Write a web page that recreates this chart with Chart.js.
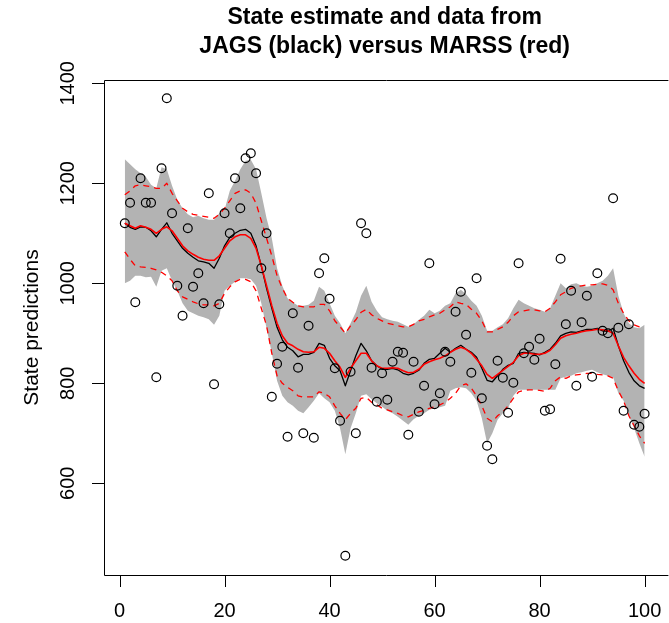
<!DOCTYPE html>
<html>
<head>
<meta charset="utf-8">
<script src="https://cdn.jsdelivr.net/npm/chart.js@4/dist/chart.umd.min.js"></script>
<style>
html,body{margin:0;padding:0;background:#fff;overflow:hidden;}
canvas{display:block;}
</style>
</head>
<body>
<canvas id="c" width="669" height="623"></canvas>
<script>
// ---- data ----
const titleLines = ["State estimate and data from", "JAGS (black) versus MARSS (red)"];
const yAxisTitle = "State predictions";
const xTicks = [0, 20, 40, 60, 80, 100];
const yTicks = [600, 800, 1000, 1200, 1400];

// observations (open circles), t = 1..100
const obs = [1120,1161,962,1210,1161,1161,812,1230,1370,1140,
             995,935,1110,993,1020,960,1180,798,958,1140,
             1100,1210,1150,1250,1260,1220,1030,1100,773,839,
             873,693,940,831,700,915,691,1020,1050,969,
             830,725,455,823,700,1120,1100,831,763,820,
             767,843,863,861,697,843,743,795,1040,758,
             780,863,843,943,983,897,821,1010,770,675,
             648,845,811,741,801,1040,860,873,847,889,
             745,748,838,1049,918,985,795,922,975,813,
             1020,905,900,1170,911,745,918,717,713,739];

// JAGS median (black line)
const jagsMed = [1120,1112,1108,1113,1112,1105,1093,1108,1121,1100,
                 1085,1070,1060,1052,1045,1043,1040,1030,1050,1075,
                 1092,1100,1106,1108,1100,1075,1035,990,950,912,
                 887,872,865,853,858,858,862,880,876,850,
                 835,825,795,825,855,880,865,845,835,828,
                 828,830,827,820,817,820,826,840,848,850,
                 860,870,862,870,876,868,862,852,830,806,
                 803,815,828,836,840,860,862,861,860,857,
                 862,868,880,895,900,903,902,905,908,908,
                 910,905,904,910,875,845,822,805,795,790];

// JAGS credible band (grey polygon)
const jagsUpper = [1248,1238,1228,1220,1213,1197,1190,1232,1228,1195,
                   1167,1150,1138,1132,1135,1130,1127,1127,1140,1147,
                   1185,1205,1228,1245,1247,1228,1180,1130,1090,1030,
                   995,970,962,955,955,957,965,993,985,960,
                   935,920,900,920,942,975,995,963,945,932,
                   928,925,923,918,913,918,927,935,947,940,
                   945,955,960,980,987,978,965,955,935,905,
                   905,912,918,930,950,967,960,955,950,947,
                   943,950,975,1000,990,998,1000,995,993,995,
                   1000,1005,1015,1030,975,940,920,912,910,917];
const jagsLower = [1000,1005,1015,1015,1012,1013,993,1025,1030,1005,
                   985,960,945,940,935,932,928,917,935,985,
                   995,1003,1010,1010,1008,995,960,910,860,805,
                   775,762,755,745,740,752,765,780,770,762,
                   745,710,658,710,740,775,778,768,760,753,
                   745,740,733,725,717,728,735,740,747,750,
                   752,755,785,790,792,790,780,765,730,680,
                   700,727,740,750,775,787,787,787,787,787,
                   787,787,787,810,813,815,820,822,825,827,
                   822,818,815,812,780,765,735,710,680,653];

// MARSS estimate (red line) and its CI (red dashed)
const marssMean = [1120,1115,1110,1115,1112,1108,1100,1108,1113,1105,
                   1090,1075,1065,1058,1052,1048,1046,1046,1055,1070,
                   1085,1093,1097,1097,1090,1070,1035,995,955,920,
                   895,880,875,868,863,862,863,872,870,860,
                   845,832,812,830,845,860,860,845,835,830,
                   830,831,830,825,821,822,828,838,843,847,
                   850,855,862,868,872,868,860,848,835,818,
                   810,818,826,834,842,855,860,860,858,858,
                   860,866,877,890,895,898,900,903,905,906,
                   908,907,905,900,875,852,835,820,808,800];
const marssUpper = [1177,1185,1195,1197,1195,1193,1190,1190,1200,1180,
                    1165,1150,1143,1138,1136,1134,1132,1130,1138,1150,
                    1165,1180,1185,1187,1180,1160,1125,1090,1055,1015,
                    990,970,962,955,953,953,953,958,958,945,
                    925,913,900,915,927,942,948,937,930,925,
                    920,918,915,913,913,918,925,928,933,937,
                    940,947,953,963,960,958,948,940,925,903,
                    903,908,913,922,935,943,945,947,947,945,
                    943,950,963,977,983,990,993,995,997,997,
                    998,999,996,987,960,940,925,917,913,913];
const marssLower = [1063,1048,1035,1033,1032,1030,1027,1022,1015,1005,
                    985,973,968,963,959,957,957,955,960,980,
                    993,1003,1008,1008,1003,985,950,915,860,815,
                    800,792,785,775,772,773,773,783,780,773,
                    755,740,727,740,750,770,772,762,757,750,
                    747,743,740,735,733,738,743,746,750,753,
                    757,762,770,780,795,799,790,775,755,730,
                    723,735,743,755,770,783,786,787,787,786,
                    784,790,805,813,810,815,817,818,820,820,
                    818,817,815,810,785,765,735,715,695,680];

function xy(arr){ return arr.map((v,i)=>({x:i+1, y:v})); }

const FONT = '"Liberation Sans", Arial, Helvetica, sans-serif';

const rAxes = {
  id: 'rAxes',
  afterDraw(chart){
    const ctx = chart.ctx, a = chart.chartArea;
    const xs = chart.scales.x, ys = chart.scales.y;
    ctx.save();
    ctx.strokeStyle = '#000'; ctx.lineWidth = 1;
    // box (right side lies beyond the window edge)
    ctx.beginPath();
    ctx.moveTo(a.right + 5, a.top + 0.5);
    ctx.lineTo(a.left + 0.5, a.top + 0.5);
    ctx.lineTo(a.left + 0.5, a.bottom + 0.5);
    ctx.lineTo(a.right + 5, a.bottom + 0.5);
    ctx.stroke();
    // x ticks
    ctx.fillStyle = '#000';
    ctx.font = '20px ' + FONT;
    ctx.textAlign = 'center'; ctx.textBaseline = 'middle';
    ctx.beginPath();
    xTicks.forEach(v => {
      const px = Math.round(xs.getPixelForValue(v)) + 0.5;
      ctx.moveTo(px, a.bottom); ctx.lineTo(px, a.bottom + 12);
    });
    ctx.stroke();
    xTicks.forEach(v => {
      ctx.fillText(String(v), xs.getPixelForValue(v), 611);
    });
    // y ticks
    ctx.beginPath();
    yTicks.forEach(v => {
      const py = Math.round(ys.getPixelForValue(v)) + 0.5;
      ctx.moveTo(a.left, py); ctx.lineTo(a.left - 12, py);
    });
    ctx.stroke();
    yTicks.forEach(v => {
      ctx.save();
      ctx.translate(68, ys.getPixelForValue(v));
      ctx.rotate(-Math.PI/2);
      ctx.fillText(String(v), 0, 0);
      ctx.restore();
    });
    // y axis title
    ctx.font = '21px ' + FONT;
    ctx.save();
    ctx.translate(32, (a.top + a.bottom)/2);
    ctx.rotate(-Math.PI/2);
    ctx.fillText(yAxisTitle, 0, 0);
    ctx.restore();
    // main title
    ctx.font = 'bold 23px ' + FONT;
    const cx = (a.left + xs.getPixelForValue(103.96)) / 2;
    ctx.fillText(titleLines[0], cx, 18);
    ctx.fillText(titleLines[1], cx, 47);
    ctx.restore();
  }
};

Chart.defaults.font.family = FONT;

new Chart(document.getElementById('c'), {
  type: 'line',
  data: {
    datasets: [
      { label: 'JAGS upper', data: xy(jagsUpper), borderWidth: 0, borderColor: 'rgba(0,0,0,0)',
        pointRadius: 0, fill: false, order: 5, tension: 0 },
      { label: 'JAGS lower', data: xy(jagsLower), borderWidth: 0, borderColor: 'rgba(0,0,0,0)',
        backgroundColor: '#B3B3B3', pointRadius: 0, fill: 0, order: 4, tension: 0 },
      { label: 'MARSS upper', data: xy(marssUpper), borderColor: '#FF0000', borderWidth: 1.3,
        borderDash: [6,5], pointRadius: 0, fill: false, order: 3, tension: 0 },
      { label: 'MARSS lower', data: xy(marssLower), borderColor: '#FF0000', borderWidth: 1.3,
        borderDash: [6,5], pointRadius: 0, fill: false, order: 3, tension: 0 },
      { label: 'JAGS median', data: xy(jagsMed), borderColor: '#000000', borderWidth: 1.3,
        pointRadius: 0, fill: false, order: 2, tension: 0 },
      { label: 'MARSS estimate', data: xy(marssMean), borderColor: '#FF0000', borderWidth: 1.6,
        pointRadius: 0, fill: false, order: 1, tension: 0 },
      { label: 'Data', data: xy(obs), showLine: false, pointStyle: 'circle', pointRadius: 4.4,
        pointBorderWidth: 1.2, pointBorderColor: '#000', pointBackgroundColor: 'rgba(0,0,0,0)',
        borderColor: '#000', fill: false, order: 0 }
    ]
  },
  options: {
    responsive: false,
    devicePixelRatio: 1,
    animation: false,
    events: [],
    layout: { padding: { left: 104, top: 80, right: 0, bottom: 48 } },
    plugins: { legend: { display: false }, tooltip: { enabled: false }, title: { display: false } },
    scales: {
      x: { type: 'linear', display: false, min: -2.96, max: 103.58 },
      y: { type: 'linear', display: false, min: 416.6, max: 1406.6 }
    },
    elements: { line: { borderCapStyle: 'butt', borderJoinStyle: 'round' } }
  },
  plugins: [rAxes]
});
</script>
</body>
</html>
